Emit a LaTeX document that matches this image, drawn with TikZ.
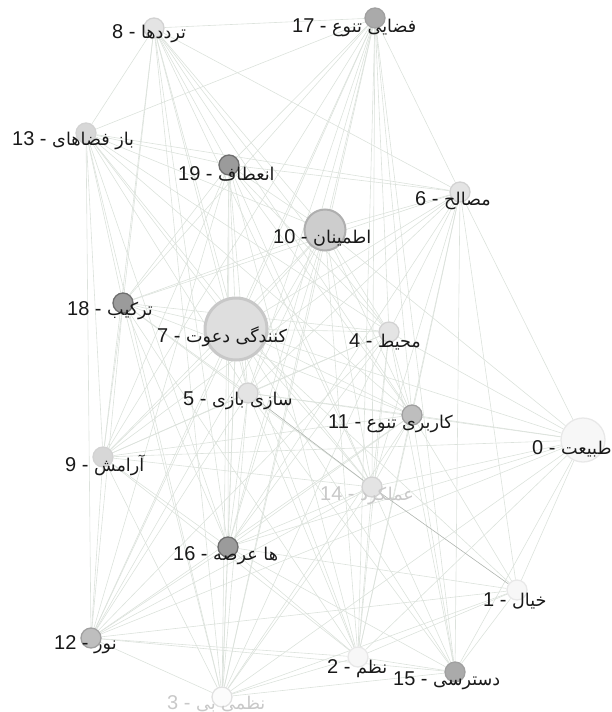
\documentclass[tikz,border=0pt]{standalone}
\usepackage{fontspec}
\setmainfont{Liberation Sans}
\newfontfamily\arabicfont[Script=Arabic,Scale=0.88]{DejaVu Sans}
\TeXXeTstate=1
\newcommand\fa[1]{{\arabicfont\beginR #1\endR}}
\pgfdeclarelayer{bg}
\pgfsetlayers{bg,main}
\definecolor{edgec}{RGB}{220,226,220}
\definecolor{edgedark}{RGB}{175,180,175}
\definecolor{labtext}{RGB}{25,25,25}
\definecolor{fadetext}{RGB}{200,200,200}
\tikzset{
  vtx/.style={circle, inner sep=0pt, minimum size=20pt, line width=1.3pt},
  vlight/.style={vtx, fill={rgb,255:red,228;green,228;blue,228}, draw={rgb,255:red,210;green,210;blue,210}},
  vmid/.style={vtx, fill={rgb,255:red,190;green,190;blue,190}, draw={rgb,255:red,160;green,160;blue,160}},
  vdark/.style={vtx, fill={rgb,255:red,155;green,155;blue,155}, draw={rgb,255:red,110;green,110;blue,110}},
  vwhite/.style={vtx, fill={rgb,255:red,247;green,247;blue,247}, draw={rgb,255:red,232;green,232;blue,232}},
  lab/.style={anchor=base west, inner sep=0pt, font=\fontsize{20}{20}\selectfont, text=labtext},
  fadelab/.style={lab, text=fadetext},
  edge/.style={draw=edgec, line width=0.6pt},
}
\begin{document}
\begin{tikzpicture}[x=1pt,y=1pt]
\useasboundingbox (0,0) rectangle (611,-712);
% vertices
\node[vwhite, minimum size=44pt] (n0) at (583,-440) {};
\node[vwhite] (n1) at (517,-590) {};
\node[vwhite] (n2) at (358,-657) {};
\node[vwhite, fill={rgb,255:red,252;green,252;blue,252}, draw={rgb,255:red,225;green,225;blue,225}] (n3) at (222,-697) {};
\node[vlight] (n4) at (389,-332) {};
\node[vlight] (n5) at (248,-393) {};
\node[vlight] (n6) at (460,-192) {};
\node[vtx, minimum size=62pt, line width=3pt, fill={rgb,255:red,222;green,222;blue,222}, draw={rgb,255:red,200;green,200;blue,200}] (n7) at (236,-329) {};
\node[vlight] (n8) at (154,-28) {};
\node[vlight, fill={rgb,255:red,215;green,215;blue,215}] (n9) at (103,-457) {};
\node[vtx, minimum size=41pt, line width=2pt, fill={rgb,255:red,205;green,205;blue,205}, draw={rgb,255:red,175;green,175;blue,175}] (n10) at (325,-230) {};
\node[vmid] (n11) at (412,-415) {};
\node[vmid] (n12) at (91,-638) {};
\node[vlight, fill={rgb,255:red,215;green,215;blue,215}] (n13) at (86,-133) {};
\node[vlight] (n14) at (372,-487) {};
\node[vmid, fill={rgb,255:red,170;green,170;blue,170}] (n15) at (455,-672) {};
\node[vdark] (n16) at (228,-547) {};
\node[vmid, fill={rgb,255:red,170;green,170;blue,170}] (n17) at (375,-18) {};
\node[vdark] (n18) at (123,-303) {};
\node[vdark] (n19) at (229,-165) {};
% edges
\begin{pgfonlayer}{bg}
\foreach \a/\b in {8/17,8/13,8/18,8/19,8/7,8/10,8/5,8/6,8/4,8/16,8/14,8/11,8/3,8/9,
  17/13,17/19,17/18,17/7,17/10,17/5,17/4,17/11,17/14,17/2,17/15,17/6,17/16,17/3,17/9,17/12,
  13/19,13/18,13/7,13/10,13/5,13/4,13/9,13/16,13/12,13/11,13/6,13/14,13/3,
  19/10,19/7,19/18,19/5,19/16,19/4,19/11,19/6,19/14,19/2,19/3,19/12,19/9,
  6/10,6/7,6/18,6/4,6/11,6/0,6/14,6/5,6/2,6/15,6/1,6/9,6/16,
  10/7,10/18,10/4,10/5,10/11,10/0,10/16,10/9,10/14,10/2,10/3,10/12,
  18/7,18/9,18/12,18/5,18/16,18/4,18/11,18/3,18/14,18/2,
  7/4,7/5,7/9,7/11,7/0,7/16,7/14,7/12,7/3,7/2,7/15,7/1,
  4/5,4/11,4/0,4/9,4/16,4/14,4/2,4/15,4/3,4/12,
  5/9,5/11,5/16,5/3,5/2,5/12,5/15,5/0,
  11/0,11/14,11/9,11/16,11/2,11/15,11/3,11/1,11/12,
  0/14,0/1,0/2,0/15,0/16,0/9,0/3,0/12,
  9/12,9/16,9/3,9/14,9/2,
  14/16,14/2,14/15,14/3,14/12,
  16/12,16/3,16/2,16/15,16/1,
  1/2,1/15,1/3,1/12,
  2/15,2/3,2/12,
  12/3,12/15,15/3}
  \draw[edge] (n\a) -- (n\b);
\draw[edge, draw=edgedark] (n5) -- (n14);
\draw[edge, draw=edgedark] (n14) -- (n1);
\end{pgfonlayer}
% labels
\node[lab] (l0) at (532,-454) {0 - \fa{طبیعت}};
\node[lab] (l1) at (483,-606) {1 - \fa{خیال}};
\node[lab] (l2) at (327,-673) {2 - \fa{نظم}};
\node[fadelab] (l3) at (167,-709) {3 - \fa{نظمی بی}};
\node[lab] (l4) at (349,-347) {4 - \fa{محیط}};
\node[lab] (l5) at (183,-405) {5 - \fa{سازی بازی}};
\node[lab] (l6) at (415,-205) {6 - \fa{مصالح}};
\node[lab] (l7) at (157,-342) {7 - \fa{کنندگی دعوت}};
\node[lab] (l8) at (112,-38) {8 - \fa{ترددها}};
\node[lab] (l9) at (65,-471) {9 - \fa{آرامش}};
\node[lab] (l10) at (273,-243) {10 - \fa{اطمینان}};
\node[lab] (l11) at (328,-428) {11 - \fa{کاربری تنوع}};
\node[lab] (l12) at (54,-649) {12 - \fa{نور}};
\node[lab] (l13) at (12,-145) {13 - \fa{باز فضاهای}};
\node[fadelab] (l14) at (320,-500) {14 - \fa{عملکرد}};
\node[lab] (l15) at (393,-685) {15 - \fa{دسترسی}};
\node[lab] (l16) at (173,-560) {16 - \fa{ها عرصه}};
\node[lab] (l17) at (292,-32) {17 - \fa{فضایی تنوع}};
\node[lab] (l18) at (67,-315) {18 - \fa{ترکیب}};
\node[lab] (l19) at (178,-180) {19 - \fa{انعطاف}};
\end{tikzpicture}
\end{document}
